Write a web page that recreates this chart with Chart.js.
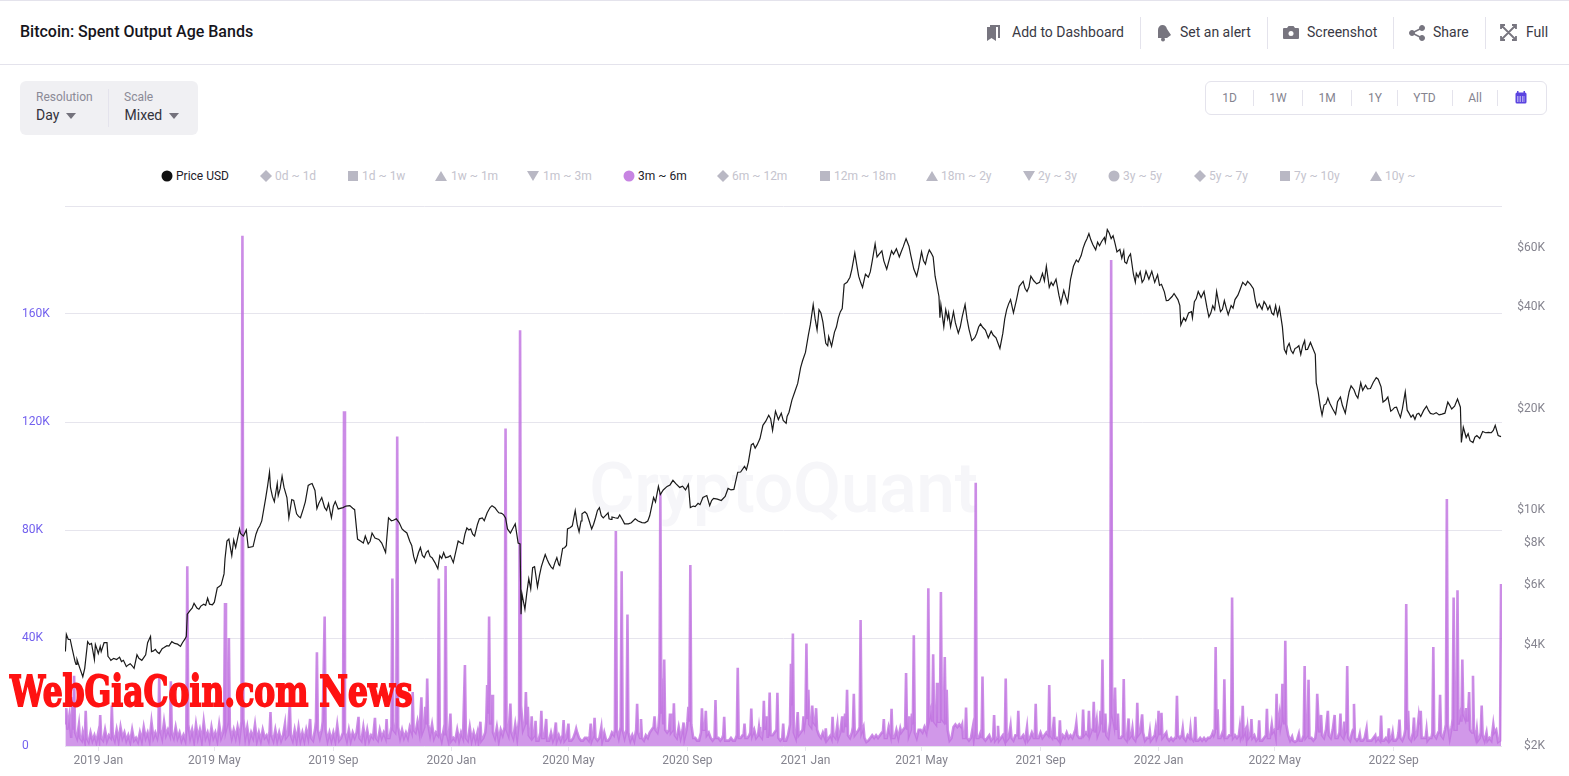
<!DOCTYPE html>
<html>
<head>
<meta charset="utf-8">
<title>Bitcoin: Spent Output Age Bands</title>
<script src="https://cdn.jsdelivr.net/npm/chart.js@4"></script>
<style>
  html, body { margin: 0; padding: 0; background: #fff; }
  body { position: relative; width: 1569px; height: 776px; overflow: hidden; font-family: Roboto, sans-serif; color: #2a2933; }
  .abs { position: absolute; white-space: nowrap; }
  .line { position: absolute; background: #e4e3ec; }
  .title { left: 20px; top: 23px; font-size: 16px; font-weight: 500; line-height: 18px; color: #16151c; }
  .act { top: 24px; font-size: 14px; line-height: 16px; color: #3a3944; }
  .panel { left: 20px; top: 81px; width: 178px; height: 54px; background: #f0f0f3; border-radius: 6px; }
  .small { font-size: 12px; line-height: 14px; color: #8b8a96; }
  .value { font-size: 14px; line-height: 16px; color: #33323c; }
  .range { left: 1205px; top: 81px; width: 340px; height: 32px; border: 1px solid #e4e3ec; border-radius: 6px; }
  .rtxt { top: 91px; font-size: 12px; line-height: 14px; color: #85848f; transform: translateX(-50%); }
  .leg { top: 169px; font-size: 12px; line-height: 14px; color: #c5c4ce; }
  .leg.on { color: #23222a; }
  .mark { position: absolute; top: 170px; width: 12px; height: 12px; }
  .mark svg { display: block; }
  .watermark { left: 589px; top: 450px; font-size: 70px; line-height: 76px; font-weight: 500; color: #f6f6f9; letter-spacing: -0.5px; }
  .stamp { left: 10px; top: 668px; font-family: "DejaVu Serif", serif; font-weight: 700; font-size: 42px; line-height: 48px; color: #ff1212; -webkit-text-stroke: 1.800px #ff1212; transform-origin: 0 0; transform: scaleX(0.747); z-index: 5; }
  #chartBox { position: absolute; left: 0; top: 190px; width: 1569px; height: 586px; }
</style>
</head>
<body>
<div class="line" style="left:0;top:0;width:1569px;height:1px"></div>
<div class="line" style="left:0;top:64px;width:1569px;height:1px"></div>
<div class="abs title">Bitcoin: Spent Output Age Bands</div>

<svg class="abs" style="left:986px;top:24px" width="16" height="18" viewBox="0 0 16 18" fill="#77757f"><path d="M1 3h9v14l-4.500-3-4.500 3z"/><path d="M4 1h10v13h-2V3H4z"/></svg>
<div class="abs act" style="left:1012px">Add to Dashboard</div>
<div class="line" style="left:1140px;top:17px;width:1px;height:32px"></div>
<svg class="abs" style="left:1156px;top:24px" width="16" height="18" viewBox="0 0 16 18" fill="#77757f"><path d="M2 14V6c0-3 2-5 4.500-5S10 2 11 5l4 6-4 3z"/><circle cx="7" cy="15.500" r="2"/></svg>
<div class="abs act" style="left:1180px">Set an alert</div>
<div class="line" style="left:1267px;top:17px;width:1px;height:32px"></div>
<svg class="abs" style="left:1283px;top:25px" width="16" height="15" viewBox="0 0 16 15"><path fill="#77757f" d="M1 3h3l1.500-2h5L12 3h3a1 1 0 0 1 1 1v9a1 1 0 0 1-1 1H1a1 1 0 0 1-1-1V4a1 1 0 0 1 1-1z"/><circle cx="8" cy="8.500" r="2.500" fill="#fff"/></svg>
<div class="abs act" style="left:1307px">Screenshot</div>
<div class="line" style="left:1393px;top:17px;width:1px;height:32px"></div>
<svg class="abs" style="left:1409px;top:25px" width="16" height="16" viewBox="0 0 16 16" fill="#77757f" stroke="#77757f"><circle cx="3" cy="8" r="2.500"/><circle cx="13" cy="3" r="2.500"/><circle cx="13" cy="13" r="2.500"/><path d="M3 8l10-5M3 8l10 5" stroke-width="1.500"/></svg>
<div class="abs act" style="left:1433px">Share</div>
<div class="line" style="left:1485px;top:17px;width:1px;height:32px"></div>
<svg class="abs" style="left:1500px;top:24px" width="17" height="17" viewBox="0 0 17 17" fill="none" stroke="#77757f" stroke-width="1.800"><path d="M1 5V1h4M12 1h4v4M1 12v4h4M16 12v4h-4M2 2l13 13M15 2L2 15"/></svg>
<div class="abs act" style="left:1526px">Full</div>

<div class="abs panel"></div>
<div class="abs small" style="left:36px;top:90px">Resolution</div>
<div class="abs value" style="left:36px;top:107px">Day</div>
<svg class="abs" style="left:66px;top:113px" width="10" height="6"><path d="M0 0h10L5 6z" fill="#74727c"/></svg>
<div class="line" style="left:108px;top:89px;width:1px;height:38px"></div>
<div class="abs small" style="left:124px;top:90px">Scale</div>
<div class="abs value" style="left:124.500px;top:107px">Mixed</div>
<svg class="abs" style="left:169px;top:113px" width="10" height="6"><path d="M0 0h10L5 6z" fill="#74727c"/></svg>

<div class="abs range"></div>
<div class="abs rtxt" style="left:1229.500px">1D</div>
<div class="abs rtxt" style="left:1278px">1W</div>
<div class="abs rtxt" style="left:1327px">1M</div>
<div class="abs rtxt" style="left:1375px">1Y</div>
<div class="abs rtxt" style="left:1424.500px">YTD</div>
<div class="abs rtxt" style="left:1475px">All</div>
<div class="line" style="left:1253px;top:90px;width:1px;height:16px"></div>
<div class="line" style="left:1302px;top:90px;width:1px;height:16px"></div>
<div class="line" style="left:1351px;top:90px;width:1px;height:16px"></div>
<div class="line" style="left:1397px;top:90px;width:1px;height:16px"></div>
<div class="line" style="left:1452px;top:90px;width:1px;height:16px"></div>
<div class="line" style="left:1497px;top:90px;width:1px;height:16px"></div>
<svg class="abs" style="left:1515px;top:91px" width="12" height="13" viewBox="0 0 12 13"><rect x="0.500" y="1.500" width="11" height="11" rx="1.500" fill="#5b44e0"/><rect x="2" y="0" width="1.500" height="3" fill="#5b44e0"/><rect x="8.500" y="0" width="1.500" height="3" fill="#5b44e0"/><path d="M2 6h8M2 8h8M2 10h8" stroke="#fff" stroke-dasharray="1.500 1"/></svg>

<div id="legend"></div>
<div class="abs watermark">CryptoQuant</div>
<div id="chartBox"><canvas id="spentChart"></canvas></div>
<div class="abs stamp">WebGiaCoin.com News</div>

<script>
// Legend
const legendLabels = ['Price USD', '0d ~ 1d', '1d ~ 1w', '1w ~ 1m', '1m ~ 3m', '3m ~ 6m', '6m ~ 12m', '12m ~ 18m', '18m ~ 2y', '2y ~ 3y', '3y ~ 5y', '5y ~ 7y', '7y ~ 10y', '10y ~'];
const legendShapes = ['circle', 'diamond', 'square', 'up', 'down', 'circle', 'diamond', 'square', 'up', 'down', 'circle', 'diamond', 'square', 'up'];
const legendMarkX = [167, 266, 353, 441, 533, 629, 723, 825, 932, 1029, 1114, 1200, 1285, 1376];
const legendTextX = [176, 275, 362, 451, 543, 638, 732, 834, 941, 1038, 1123, 1209, 1294, 1385];
const legendColors = { 'Price USD': '#111111', '3m ~ 6m': '#c784e2' };

// Axis ticks
const monthLabels = ['2019 Jan', '2019 May', '2019 Sep', '2020 Jan', '2020 May', '2020 Sep', '2021 Jan', '2021 May', '2021 Sep', '2022 Jan', '2022 May', '2022 Sep'];
const monthDays = [0, 120, 243, 365, 486, 609, 731, 851, 974, 1096, 1216, 1339];
const priceTicks = [2000, 4000, 6000, 8000, 10000, 20000, 40000, 60000];

// Price USD, [days since 2019 Jan 1, usd]
const pricePoints = [
  [-34,3814],[-33,4290],[-31,4140],[-29,4140],[-27,3890],[-24,3560],[-23,3490],[-22,3610],[-19,3400],[-16,3210],[-14,3400],[-11,4080],[-9,4000],[-7,4030],[-4,3610],[-3,4000],
  [0,3760],[2,3950],[3,3810],[6,4050],[9,4050],[10,3690],[13,3590],[16,3640],[19,3610],[26,3590],[29,3440],[33,3510],[37,3400],[40,3730],[45,3590],[49,3730],[51,4050],[54,4230],[55,3810],[59,3870],[63,3760],[66,3890],[71,3970],[76,4080],[79,4030],[85,3950],[90,4170],[91,4230],
  [92,4920],[97,5130],[99,5300],[102,5130],[104,5090],[109,5270],[113,5490],[115,5270],[120,5340],[123,5890],[127,6010],[130,6480],[131,7190],[133,8110],[135,8220],[138,7340],[140,8170],[142,7760],[146,8810],[150,8390],[153,8750],[155,7760],[160,7810],[165,8810],[169,9310],[173,10850],[177,12980],[178,11700],[182,10620],[185,12020],[186,11070],[190,12630],[192,11700],[195,10920],[197,9510],[200,10770],[202,10700],[205,9770],[209,9510],[212,10120],[217,11860],[221,12020],[224,11460],[226,10120],[231,10920],[234,10190],[238,10480],[241,9510],[245,10620],[253,10190],[260,10330],[265,10050],
  [268,8220],[271,8110],[276,8395],[279,7950],[283,8570],[286,8280],[293,8000],[297,7500],[300,9510],[303,9315],[308,9440],[314,8810],[319,8570],[324,7870],[328,7000],[333,7760],[337,7240],[341,7600],[345,7240],[351,6710],[353,7345],[357,7500],[359,7240],[364,7345],[367,7000],
  [372,8110],[377,7950],[381,8870],[385,8810],[389,8395],[394,9440],[399,9315],[402,9840],[407,10330],[410,10190],[414,9840],[419,9700],[423,8810],[426,8570],[431,9120],[434,8000],[436,7950],[437,4920],[438,5650],[441,5090],[445,6270],[447,5850],[449,6760],[451,6810],[454,5930],[458,6810],[462,7400],[466,6950],[470,6710],[474,7240],[477,6860],[480,7710],[484,7870],[485,8810],[490,9000],[493,9980],[497,8630],[500,9770],[505,9770],[510,8810],[514,9510],[518,10190],[520,9640],[527,9840],[528,9440],[534,9510],[539,9700],[544,9120],[551,9190],[555,9440],[565,9190],[570,9640],[574,10920],[579,11780],[581,11150],[588,11780],[594,12280],[601,11700],[610,11940],[612,10190],[617,10260],[625,10920],[629,11070],[632,10330],[636,10850],[644,10700],[651,11620],[657,11540],[661,12980],[672,13900],[675,15640],[681,15640],[684,16340],[687,17880],[693,19160],[697,17270],[700,19700],[706,19430],[711,18130],[714,19560],[717,21250],
  [726,26520],[731,29430],[734,33130],[739,40780],[743,34300],[745,39400],[749,36240],[752,31300],[755,32800],[758,30700],[761,33800],[765,37270],[769,39680],[771,46850],[777,49170],[782,58060],[786,49520],[790,45880],[793,50200],[796,49170],[800,54930],[803,61800],[805,56480],[810,58870],[815,51970],[820,58870],[825,59700],[828,56480],[835,64000],[840,56900],[846,49520],[851,58460],[855,53800],[859,59290],[863,56480],[865,49520],[869,43110],[870,37270],[871,40780],[874,35030],[876,39400],[881,35030],[884,38850],[889,33580],[893,37520],[896,40780],[903,31900],[906,32550],[912,35770],[917,34300],[925,33130],[932,30240],[939,39400],[943,42220],[946,38570],[952,46200],[956,47840],[960,44620],[964,49520],[973,47480],[980,53050],[983,45880],[990,48500],[995,41060],[998,44940],[1002,41340],[1005,48500],[1011,55320],[1013,54550],[1020,62220],[1024,66240],[1031,59290],[1037,62660],[1043,68100],[1049,65340],[1053,58460],[1060,58870],[1061,54550],[1067,57660],[1070,50200],[1075,49170],[1079,47480],[1083,51250],[1089,51250],[1092,47480],[1099,46850],[1104,41930],[1110,43110],[1116,42220],
  [1119,35500],[1122,37270],[1130,38850],[1131,37270],[1133,41640],[1137,44620],[1140,42800],[1143,44620],[1148,37520],[1154,39400],[1156,44620],[1160,38850],[1164,41930],[1168,38050],[1175,42220],[1183,47480],[1186,46530],[1191,46850],[1198,39950],[1205,41640],[1209,39400],[1215,38050],[1221,39950],[1224,35030],[1226,30050],[1228,29230],[1231,31300],[1235,29230],[1239,30450],[1243,29030],[1247,31900],[1250,30050],[1253,31500],[1258,29030],[1259,23900],[1261,22470],[1265,19160],[1267,20530],[1271,21540],[1279,19290],[1284,21700],[1289,19430],[1295,23420],[1302,21540],[1305,23900],[1312,22940],[1321,24760],[1326,23260],[1328,20960],[1333,21700],[1336,19690],[1342,20240],[1346,18880],[1351,22470],[1353,19830],[1361,18630],[1365,19430],[1373,20390],[1380,19290],[1392,19430],[1395,20960],[1402,20390],[1405,21400],[1408,20240],[1409,15900],[1411,17640],[1414,16450],[1416,16890],[1421,15900],[1425,16680],[1428,16340],[1431,17150],[1442,17270],[1444,17880],[1447,16680],[1450,16560],
  // finer wiggles between the points above
  [-1,3850],[12,3630],[22,3670],[24,3560],[31,3480],[35,3460],[42,3640],[47,3660],[57,3830],[61,3800],[68,3920],[73,3960],[82,4010],[87,4050],
  [95,5050],[106,5200],[111,5230],[118,5250],[125,5950],[147,8550],[163,8500],[167,9000],[175,11800],[180,11000],[188,11600],[207,9600],[214,10600],[219,11950],[228,10500],[236,10000],[243,10300],[248,10100],[256,10300],[263,10150],
  [274,8000],[281,8100],[290,8200],[305,9350],[311,9200],[316,8700],[322,8100],[326,7300],[331,7500],[335,7350],[339,7500],[343,7300],[348,7000],[355,7200],[362,7280],
  [375,8000],[379,8500],[383,8750],[387,8500],[392,9100],[397,9500],[405,10200],[412,10000],[417,9800],[421,9500],[429,8900],
  [443,5700],[456,6400],[460,7100],[464,7150],[468,6800],[472,7000],[476,6900],[482,7750],[488,8900],[495,9100],[499,9300],[503,9900],[507,9400],[512,9100],[516,10000],[522,9500],[525,9700],[530,9400],
  [531,9560],[537,9480],[542,9370],[548,9120],[558,9300],[562,9200],[568,9300],[576,10600],[584,11500],[591,11900],[597,12000],[604,11800],[607,11500],[615,10300],[620,10500],[622,10400],[627,11000],[634,10700],[640,10800],[648,11000],[654,11500],[664,13000],[668,13500],[670,13200],[677,15800],[679,15300],[690,18400],[695,18700],[703,18600],[708,18500],[712,19000],
  [720,22500],[723,23800],[728,27800],[736,35500],[741,37000],[747,38500],[754,30800],[763,35000],[767,38800],[774,47500],[779,52000],[784,53500],[788,47500],[798,51000],[807,57500],[812,55000],[818,56000],[822,57500],[830,58500],[832,60500],[838,60800],[843,52000],[848,52500],[853,55000],[857,57000],[861,58000],
  [878,37000],[879,38500],[886,36000],[891,35000],[898,37000],[900,34500],[908,33500],[910,35000],[914,35000],[920,32500],[923,34000],[928,32500],[935,33500],[937,37000],[941,41000],[949,42000],[954,47000],[958,45500],[962,46000],[967,48000],[970,47000],[976,50500],[978,48000],[985,47500],[987,46500],[993,43500],[1000,43000],[1008,53000],[1016,57000],[1018,60000],[1022,64000],[1026,63500],[1028,61500],[1033,62500],[1035,61000],[1040,64500],[1041,62500],[1045,66500],[1047,64000],[1051,62000],[1056,59500],[1058,56000],[1063,54000],[1065,56500],[1072,47500],[1073,50500],[1077,51000],[1081,48500],[1086,48500],[1095,50000],[1097,46500],[1102,44500],[1106,42000],[1112,44000],[1118,40500],
  [1124,36500],[1127,38500],[1135,42500],[1146,40000],[1150,38500],[1152,40500],[1158,41500],[1162,39500],[1166,39800],[1171,40500],[1173,39800],[1178,43500],[1180,45000],[1188,47800],[1194,45500],[1196,42000],[1200,41000],[1203,39500],[1207,40800],[1211,40500],[1213,38500],[1217,40500],[1219,37800],[1229,30500],[1233,29800],[1237,30200],[1241,30800],[1245,30800],[1248,30000],[1255,30500],[1263,20500],[1269,20700],[1273,20800],[1276,20000],[1281,21000],[1286,20500],[1291,21000],[1293,22500],[1298,22800],[1300,22000],[1307,22700],[1310,23500],[1315,23000],[1318,24000],[1323,24500],[1331,21300],[1338,19900],[1340,20200],[1344,19500],[1348,20000],[1355,19400],[1357,18900],[1359,19200],[1363,19300],[1367,19000],[1370,19800],[1375,19800],[1377,19400],[1383,19500],[1386,19200],[1389,19300],[1397,20500],[1399,20000],[1418,16100],[1423,16500],[1434,17000],[1437,17050],[1440,17000]
];

// 3m ~ 6m spent outputs, [days since 2019 Jan 1, thousands]
const spentPoints = [
  [-34,8],[-33,14],[-32,6],[-30,11],[-28,3],[-27,18],[-26,6],[-25,26],[-24,5],[-22,3],[-20,8],[-19,3],[-17,2],[-16,5],[-14,2],[-13,13],[-12,3],[-10,1.5],[-8,5],[-6,2],[-4,4],[-2,1.5],[0,5],[1,3],[2,11.5],[3,3],[5,2],[7,6],[9,2],[11,4],[13,3],[14,15],[15,4],[17,2],[19,6],[21,2],[23,7],[25,3],[27,5],[29,2],[31,4],[33,1.5],[35,6],[37,2],[39,3],[41,1.5],[43,5],[45,2],[47,7],[49,3],[51,5],[53,2],[55,9],[57,3],[59,5],[61,3],[62,5],[63,26],[64,6],[66,3],[68,9],[70,4],[72,6],[74,4],[75,24],[76,5],[78,3],[80,7],[82,3],[84,5],[86,2],[88,4],[90,2],[91,6],[92,66.6],[93,8],
  [95,3],[97,6],[99,2],[101,8],[103,3],[105,6],[107,2],[109,9],[111,3],[113,5],[115,2],[117,7],[119,3],[121,5],[123,2],[125,8],[127,3],[129,5],[130,8],[131,53],[132,6],[134,9],[135,40],[136,7],[138,3],[140,6],[142,3],[144,7],[146,3],[148,9],[149,189],[150,10],[152,3],[154,7],[156,2],[158,5],[160,3],[162,8],[164,2],[166,5],[168,2],[170,6],[172,3],[174,4],[176,2],[177,5],[178,12.6],[179,4],[181,2],[183,6],[185,2],[187,5],[189,2],[191,4],[193,8.3],[194,3],[196,4],[198,16],[199,4],[201,2],[203,6],[205,2],[207,7],[209,2],[211,5],[213,2],[215,6],[217,3],[219,10],[220,3],[222,2],[224,6],[225,9],[226,34.7],[227,6],[229,3],[231,6],[232,9],[234,48],[235,6],[237,2],[239,5],[241,2],[243,5],[245,2],[247,7.8],[249,2],[251,3],[253,5],[254,124],[255,5],[257,2],[259,6],[261,2],[263,5],[265,3],[267,5],[269,10.8],[270,3],[272,2],[274,7],[276,2],[278,6],[280,2],[282,4],[284,3],[286,10.4],[287,3],[289,2],[291,6],[293,3],[295,5],[297,3],[298,10],[299,3],[301,3],[303,7],[304,62],[305,6],[307,5],[308,9],[309,114.6],[310,7],[312,3],[314,6],[316,3],[318,5],[320,3],[322,7],[324,5],[325,20],[326,6],[328,5],[330,9],[332,5],[334,18],[335,5],[337,7],[338,14.5],[339,8],[340,25],[341,8],[343,4],[345,8],[347,3],[349,5],[351,4],[352,62],[353,5],[355,2],[357,6],[358,4],[359,66.7],[360,5],[362,2],[364,12],
  [365,2],[367,3],[369,2],[371,6],[373,2],[375,5],[377,3],[379,30],[380,3],[382,2],[384,7],[386,2],[388,5],[390,2],[392,5],[393,2],[395,9],[396,2],[398,3],[400,5],[401,9],[402,22.6],[403,12],[404,48],[405,8],[406,10],[407,19],[408,5],[410,3],[412,7],[414,2],[416,6],[418,4],[420,7],[421,117.6],[422,6],[424,4],[426,15.7],[427,5],[429,3],[431,8],[433,3],[435,10],[436,154],[437,15],[439,6],[441,8],[442,20],[443,8],[444,14.5],[445,4],[447,3],[448,11],[449,3],[451,4],[452,9.3],[453,2],[455,2],[457,5],[458,13],[459,3],[461,3],[463,10],[464,2],[466,2],[468,5],[470,2],[471,3],[473,8.7],[474,2],[476,4],[478,2],[480,4],[481,9.6],[482,2],[484,3],[486,8.3],[487,2],[489,2],[491,3],[493,5],[494,6.4],[495,5],[497,3],[499,2],[501,2],[503,3],[505,3],[507,2],[508,4],[509,8.3],[510,2],[512,4],[513,10.4],[514,3],[516,2],[518,3],[520,7],[521,2],[523,5],[525,2],[527,2],[529,3],[531,5],[533,4],[534,6],[535,79.6],[536,6],[538,3],[540,7],[541,64.7],[542,6],[544,3],[546,6],[547,48.7],[548,5],[550,2],[552,4],[554,2],[556,6],[557,15.6],[558,5],[560,3],[561,10],[562,3],[564,2],[566,4],[568,3],[570,5],[572,6],[574,7],[575,11],[576,6],[578,5],[579,7],[580,12],[581,93.7],[582,12],[583,25],[584,8],[585,32],[586,6],[588,5],[590,6],[591,12],[592,5],[594,6],[595,15.8],[596,4],[598,3],[600,7],[602,3],[604,6],[605,8.7],[606,3],[608,6],[609,9],[610,14.5],[611,9],[612,67],[613,8],[615,3],[617,3],[619,2],[621,2],[623,5],[624,14],[625,6],[627,6],[628,13],[629,4],[631,5],[633,3],[635,2],[637,3],[638,17],[639,3],[641,3],[643,2],[645,3],[646,4],[647,10.8],[648,2],[650,2],[652,2],[654,3],[656,2],[658,2],[660,4],[661,29],[662,3],[664,3],[666,4],[667,4],[668,8.3],[669,3],[671,3],[673,4],[674,5],[675,13.9],[676,4],[678,6],[680,3],[682,4],[683,7],[684,4],[686,3],[687,6],[688,16.7],[689,6],[691,11],[692,3],[693,7],[694,19.8],[695,4],[697,4],[699,5],[701,6],[702,19.7],[703,3],[705,2],[707,3],[708,8.3],[709,2],[711,2],[713,4],[715,8],[716,30.5],[717,15],[718,41.7],[719,5],[721,3],[723,12.6],[724,4],[726,5],[728,6],[729,11],[730,8],
  [731,11],[732,38],[733,10],[734,20.8],[735,8],[737,7],[738,15],[739,9],[741,8],[742,14],[743,6],[745,4],[747,3],[749,5],[751,3],[752,6.5],[753,2],[755,3],[757,4],[758,3],[759,10.8],[760,4],[762,3],[764,8],[765,3],[767,5],[769,11],[770,5],[772,12],[773,7],[774,20.8],[775,4],[777,3],[779,5],[780,7],[781,19.3],[782,4],[784,5],[786,6],[787,7],[788,46.7],[789,5],[791,7],[792,3],[794,1.5],[796,2],[798,3],[800,4],[802,3],[804,4],[806,3],[808,4],[810,5],[811,5],[812,10],[813,3],[815,3],[817,7],[819,4],[820,13.8],[821,3],[823,3],[825,6],[827,3],[829,6.5],[830,5],[832,6],[834,7],[835,27],[836,6],[837,11],[838,4],[840,6],[841,12],[842,8],[843,41],[844,5],[846,3],[848,6],[850,6],[852,5],[854,7],[856,5],[857,9],[858,58.4],[859,10],[861,13.6],[862,9],[863,34],[864,9],[866,8],[867,23.4],[868,9],[870,9],[871,57],[872,10],[874,9],[875,33],[876,8],[877,20.8],[878,6],[880,2],[882,3],[884,7],[886,8],[888,7],[890,8],[892,7],[893,8],[894,3],[896,3],[897,14.2],[898,3],[900,2],[902,3],[904,7],[905,3],[906,6],[907,97.5],[908,3],[910,3],[912,5],[913,3],[914,25.7],[915,3],[917,2],[919,3],[921,4],[923,2],[925,3],[926,11.5],[927,2],[929,3],[930,7.5],[931,2],[933,3],[935,4],[937,2],[938,25],[939,2],[941,3],[943,7.5],[944,3],[946,2],[948,4],[950,4],[951,13],[952,3],[954,3],[956,4],[958,2],[960,7],[961,2],[963,3],[965,5],[967,3],[968,3],[969,15.6],[970,3],
  [972,3],[974,5],[976,3],[978,4],[980,5],[982,4],[983,22.6],[984,4],[986,3],[988,10.8],[989,3],[991,3],[993,2],[994,9.5],[995,2],[997,4],[999,3],[1001,5],[1003,3],[1005,4],[1007,3],[1009,5],[1010,6],[1011,8.5],[1012,4],[1014,3],[1016,3],[1017,4],[1018,13.5],[1019,4],[1021,5],[1023,4],[1024,13],[1025,4],[1027,6],[1028,6],[1029,16.4],[1030,5],[1032,9.5],[1033,4],[1035,6],[1036,13],[1037,8],[1038,32],[1039,5],[1041,12],[1042,4],[1044,3],[1046,9],[1047,180],[1048,12],[1050,8],[1051,21.7],[1052,6],[1054,12],[1055,3],[1057,3],[1059,4],[1060,24.8],[1061,3],[1063,2],[1065,10.2],[1066,3],[1068,4],[1069,6.5],[1070,3],[1072,2],[1073,4],[1074,16],[1075,4],[1077,5],[1079,11.7],[1080,5],[1082,2],[1084,3],[1086,3],[1087,5.5],[1088,2],[1090,3],[1092,4],[1093,6.5],[1094,3],[1095,4],
  [1096,13],[1097,4],[1099,12.3],[1100,3],[1102,4],[1104,5],[1105,3],[1107,2],[1109,3],[1111,2],[1113,3],[1114,5],[1115,18.6],[1116,4],[1118,3],[1120,4],[1121,6.5],[1122,3],[1124,2],[1126,4],[1128,3],[1129,6.5],[1130,3],[1132,2],[1133,3],[1134,10.8],[1135,2],[1137,2],[1139,3],[1141,2],[1143,3],[1145,2],[1147,3],[1149,3],[1151,4],[1152,5],[1153,4],[1154,5],[1155,36.7],[1156,6],[1157,13.6],[1158,3],[1160,3],[1162,5],[1163,4],[1164,24.7],[1165,3],[1167,3],[1169,4],[1171,4],[1172,55],[1173,3],[1175,4],[1177,3],[1179,4],[1180,7],[1181,3],[1182,4],[1183,14.9],[1184,4],[1186,6],[1187,3],[1188,6.5],[1189,3],[1191,4],[1192,10],[1193,3],[1195,4],[1197,2],[1199,3],[1200,9.5],[1201,2],[1203,2],[1205,3],[1207,4],[1208,13.8],[1209,3],[1211,3],[1213,8],[1214,5],[1216,6],[1217,4],[1218,19.3],[1219,6],[1221,11.5],[1222,7],[1223,9],[1224,23],[1225,12],[1226,8],[1227,39],[1228,8],[1230,4],[1232,2],[1234,3.5],[1235,2],[1237,1.5],[1239,2],[1241,4.5],[1242,2],[1244,2],[1246,4],[1247,29.6],[1248,3],[1250,4],[1251,24.5],[1252,3],[1254,3],[1256,2],[1258,3],[1259,6],[1260,19.3],[1261,12],[1262,5],[1264,11.5],[1265,4],[1267,3],[1269,6],[1271,13],[1272,4],[1274,3],[1276,6],[1278,11.5],[1279,3],[1281,3],[1283,5],[1284,12],[1285,4],[1287,3],[1288,9],[1289,5],[1290,6],[1291,29.6],[1292,3],[1294,2],[1296,5],[1297,6],[1298,15.6],[1299,3],[1301,2],[1303,3],[1304,4.5],[1305,2],[1307,2],[1309,3],[1311,6.5],[1312,2],[1314,2],[1316,2],[1318,3],[1320,4],[1321,2],[1323,3],[1325,2],[1326,11.3],[1327,2],[1329,2],[1331,3],[1333,2],[1334,6.5],[1335,2],[1337,3],[1338,5],[1339,2],[1341,2],[1343,3],[1344,5],[1345,9.8],[1346,3],[1348,2],[1350,4],[1351,6],[1352,52.6],[1353,6],[1354,13],[1355,3],[1357,2],[1359,5],[1360,10.5],[1361,3],[1363,4],[1365,11],[1366,8],[1367,13],[1368,3],[1370,3],[1372,3],[1373,6],[1374,2],[1376,3],[1378,3],[1379,5],[1380,36.7],[1381,4],[1383,3],[1385,5],[1386,5],[1387,19],[1388,4],[1390,3],[1392,6],[1393,8],[1394,91.5],[1395,8],[1397,3],[1399,7],[1400,10],[1401,55],[1402,6],[1404,6],[1405,57.7],[1406,8],[1408,12],[1409,9],[1410,32],[1411,12],[1413,10],[1414,14],[1415,9],[1416,12],[1417,20],[1418,6],[1420,5],[1421,26],[1422,6],[1424,3],[1425,6],[1426,2],[1428,3],[1429,5],[1430,15],[1431,4],[1433,2],[1435,5],[1436,2],[1438,3],[1440,2],[1442,8],[1443,5],[1445,6],[1447,1.5],[1449,2],[1450,60]
];

function markSvg(shape, color) {
  const shapes = {
    circle: `<circle cx="6" cy="6" r="5.500"/>`,
    diamond: `<path d="M6 0l6 6-6 6-6-6z"/>`,
    square: `<rect x="1" y="1" width="10" height="10"/>`,
    up: `<path d="M6 1l6 10H0z"/>`,
    down: `<path d="M0 1h12L6 11z"/>`
  };
  return `<svg width="12" height="12" fill="${color}">${shapes[shape]}</svg>`;
}

const legendBox = document.getElementById('legend');
legendBox.innerHTML = legendLabels.map((label, i) => {
  const color = legendColors[label] || '#b9b8c4';
  const on = legendColors[label] ? ' on' : '';
  return `<div class="mark" style="left:${legendMarkX[i] - 6}px">${markSvg(legendShapes[i], color)}</div>` +
    `<div class="abs leg${on}" style="left:${legendTextX[i]}px">${label}</div>`;
}).join('');

const toPoints = list => list.slice().sort((a, b) => a[0] - b[0]).map(p => ({ x: p[0], y: p[1] }));

const tickFont = { family: 'Roboto, sans-serif', size: 12 };

new Chart(document.getElementById('spentChart'), {
  type: 'line',
  data: {
    datasets: [
      {
        label: 'Price USD',
        data: toPoints(pricePoints),
        yAxisID: 'yPrice',
        borderColor: '#1a1a1a',
        borderWidth: 1.2,
        pointRadius: 0,
        tension: 0,
        order: 0
      },
      {
        label: '3m ~ 6m',
        data: toPoints(spentPoints),
        yAxisID: 'ySpent',
        borderColor: 'rgba(191,112,224,0.8)',
        backgroundColor: 'rgba(191,112,224,0.72)',
        borderWidth: 2.6,
        pointRadius: 0,
        tension: 0,
        fill: 'origin',
        order: 1
      }
    ]
  },
  options: {
    responsive: true,
    maintainAspectRatio: false,
    animation: false,
    parsing: false,
    normalized: true,
    layout: { padding: { left: 22, right: 24, top: 16, bottom: 0 } },
    plugins: { legend: { display: false }, title: { display: false }, tooltip: { enabled: false } },
    scales: {
      x: {
        type: 'linear',
        min: -34.4,
        max: 1451,
        afterBuildTicks: axis => { axis.ticks = monthDays.map(v => ({ value: v })); },
        afterFit: axis => { axis.height = 30; },
        grid: { drawOnChartArea: false, drawTicks: true, tickLength: 5, color: '#e6e5ed' },
        border: { display: false },
        ticks: {
          color: '#85848f',
          font: tickFont,
          padding: 3,
          maxRotation: 0,
          autoSkip: false,
          callback: value => monthLabels[monthDays.indexOf(value)]
        }
      },
      ySpent: {
        position: 'left',
        min: 0,
        max: 200,
        afterFit: axis => { axis.width = 43; },
        grid: { color: '#e6e5ed', drawTicks: false },
        border: { display: false },
        ticks: {
          stepSize: 40,
          color: '#7361ee',
          font: tickFont,
          crossAlign: 'far',
          callback: value => (value === 200 ? '' : value === 0 ? '0' : `${value}K`)
        }
      },
      yPrice: {
        type: 'logarithmic',
        position: 'right',
        min: 2000,
        max: 80000,
        afterBuildTicks: axis => { axis.ticks = priceTicks.map(v => ({ value: v })); },
        afterFit: axis => { axis.width = 43; },
        grid: { display: false },
        border: { display: false },
        ticks: {
          color: '#85848f',
          font: tickFont,
          crossAlign: 'far',
          autoSkip: false,
          callback: value => `$${value / 1000}K`
        }
      }
    }
  }
});
</script>
</body>
</html>
